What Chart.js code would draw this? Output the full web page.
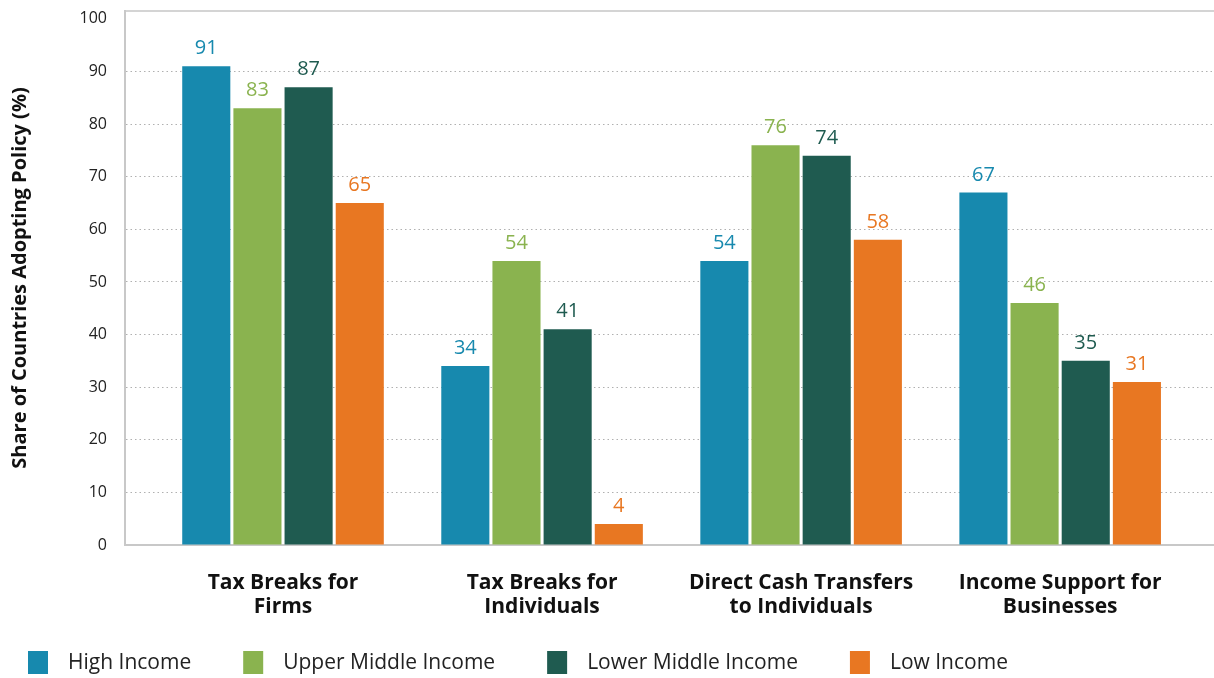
<!DOCTYPE html>
<html>
<head>
<meta charset="utf-8">
<script src="https://cdn.jsdelivr.net/npm/chart.js@4.4.1/dist/chart.umd.min.js"></script>
<style>
  html, body { margin: 0; padding: 0; background: #fff; }
  #wrap { width: 1214px; height: 678px; }
</style>
</head>
<body>
<div id="wrap"><canvas id="policy"></canvas></div>
<script>
const categories = [
    ['Tax Breaks for', 'Firms'],
    ['Tax Breaks for', 'Individuals'],
    ['Direct Cash Transfers', 'to Individuals'],
    ['Income Support for', 'Businesses']
];
const seriesNames = ['High Income', 'Upper Middle Income', 'Lower Middle Income', 'Low Income'];
const highIncome = [91, 34, 54, 67];
const upperMiddle = [83, 54, 76, 46];
const lowerMiddle = [87, 41, 74, 35];
const lowIncome = [65, 4, 58, 31];
const yTicks = [0, 10, 20, 30, 40, 50, 60, 70, 80, 90, 100];

const colors = ['#1789ae', '#8ab34f', '#1f5b50', '#e87722'];
const fontFamily = "'Open Sans', 'Noto Sans', sans-serif";

function toPoints(vals) {
    return vals.map((v, i) => ({ x: i, y: v }));
}

// value labels above each bar
const valueLabels = {
    id: 'valueLabels',
    afterDatasetsDraw(chart) {
        const ctx = chart.ctx;
        ctx.save();
        ctx.font = '400 20px ' + fontFamily;
        ctx.textAlign = 'center';
        ctx.textBaseline = 'alphabetic';
        chart.data.datasets.forEach((ds, i) => {
            const meta = chart.getDatasetMeta(i);
            ctx.fillStyle = ds.backgroundColor;
            meta.data.forEach((bar, j) => {
                ctx.fillText(String(ds.data[j].y), bar.x, bar.y - 12);
            });
        });
        ctx.restore();
    }
};

// legend row drawn along the bottom
const legendRow = {
    id: 'legendRow',
    afterDraw(chart, args, opts) {
        const ctx = chart.ctx;
        ctx.save();
        ctx.font = '400 21px ' + fontFamily;
        ctx.textBaseline = 'middle';
        ctx.textAlign = 'left';
        let x = opts.x;
        chart.data.datasets.forEach((ds) => {
            ctx.fillStyle = ds.backgroundColor;
            ctx.fillRect(x, opts.y - 11, 20, 23);
            x += 20 + opts.textGap;
            ctx.fillStyle = '#222';
            ctx.fillText(ds.label, x, opts.y + 1);
            x += ctx.measureText(ds.label).width + opts.itemGap;
        });
        ctx.restore();
    }
};

const seriesValues = [highIncome, upperMiddle, lowerMiddle, lowIncome];

const data = {
    datasets: seriesNames.map((name, i) => ({
        label: name,
        data: toPoints(seriesValues[i]),
        backgroundColor: colors[i],
        borderWidth: 0,
        categoryPercentage: 0.79,
        barPercentage: 0.94
    }))
};

const config = {
    type: 'bar',
    data: data,
    options: {
        responsive: true,
        maintainAspectRatio: false,
        animation: false,
        layout: { padding: { top: 11, right: 1, bottom: 59, left: 0 } },
        plugins: {
            legend: { display: false },
            tooltip: { enabled: false },
            legendRow: { x: 28, y: 662, textGap: 20, itemGap: 52 }
        },
        scales: {
            x: {
                type: 'linear',
                position: 'bottom',
                min: -0.61,
                max: 3.59,
                offset: false,
                grid: { display: false, drawTicks: false },
                border: { display: true, color: '#c8c8c8', width: 2 },
                ticks: {
                    stepSize: 1,
                    includeBounds: false,
                    autoSkip: false,
                    maxRotation: 0,
                    padding: 26,
                    color: '#111',
                    font: { family: fontFamily, size: 21, weight: 'bold', lineHeight: 1.15 },
                    callback: (v) => categories[v] || ''
                },
                afterFit: (scale) => { scale.height = 74; }
            },
            xTop: {
                type: 'linear',
                position: 'top',
                min: -0.61,
                max: 3.59,
                grid: { display: false, drawTicks: false },
                border: { display: true, color: '#d4d4d4', width: 2 },
                ticks: { display: false },
                afterFit: (scale) => { scale.height = 0; }
            },
            y: {
                min: 0,
                max: 101.5,
                grid: {
                    color: (c) => (c.tick && (c.tick.value === 0 || c.tick.value === 100) ? 'rgba(0,0,0,0)' : '#b0b0b0'),
                    drawTicks: false
                },
                border: { display: true, color: '#c8c8c8', width: 2, dash: [1.5, 3] },
                ticks: {
                    stepSize: 10,
                    includeBounds: false,
                    padding: 18,
                    color: '#222',
                    font: { family: fontFamily, size: 16 },
                    callback: (v) => (yTicks.includes(v) ? String(v) : '')
                },
                title: {
                    display: true,
                    text: 'Share of Countries Adopting Policy (%)',
                    color: '#111',
                    font: { family: fontFamily, size: 20, weight: 'bold', lineHeight: 1.2 },
                    padding: { top: 8, bottom: 0 }
                },
                afterFit: (scale) => {
                    scale.width = 125;
                    scale.paddingTop = 0;
                    scale.paddingBottom = 0;
                }
            }
        }
    },
    plugins: [valueLabels, legendRow]
};

const policyChart = new Chart(document.getElementById('policy'), config);
</script>
</body>
</html>
